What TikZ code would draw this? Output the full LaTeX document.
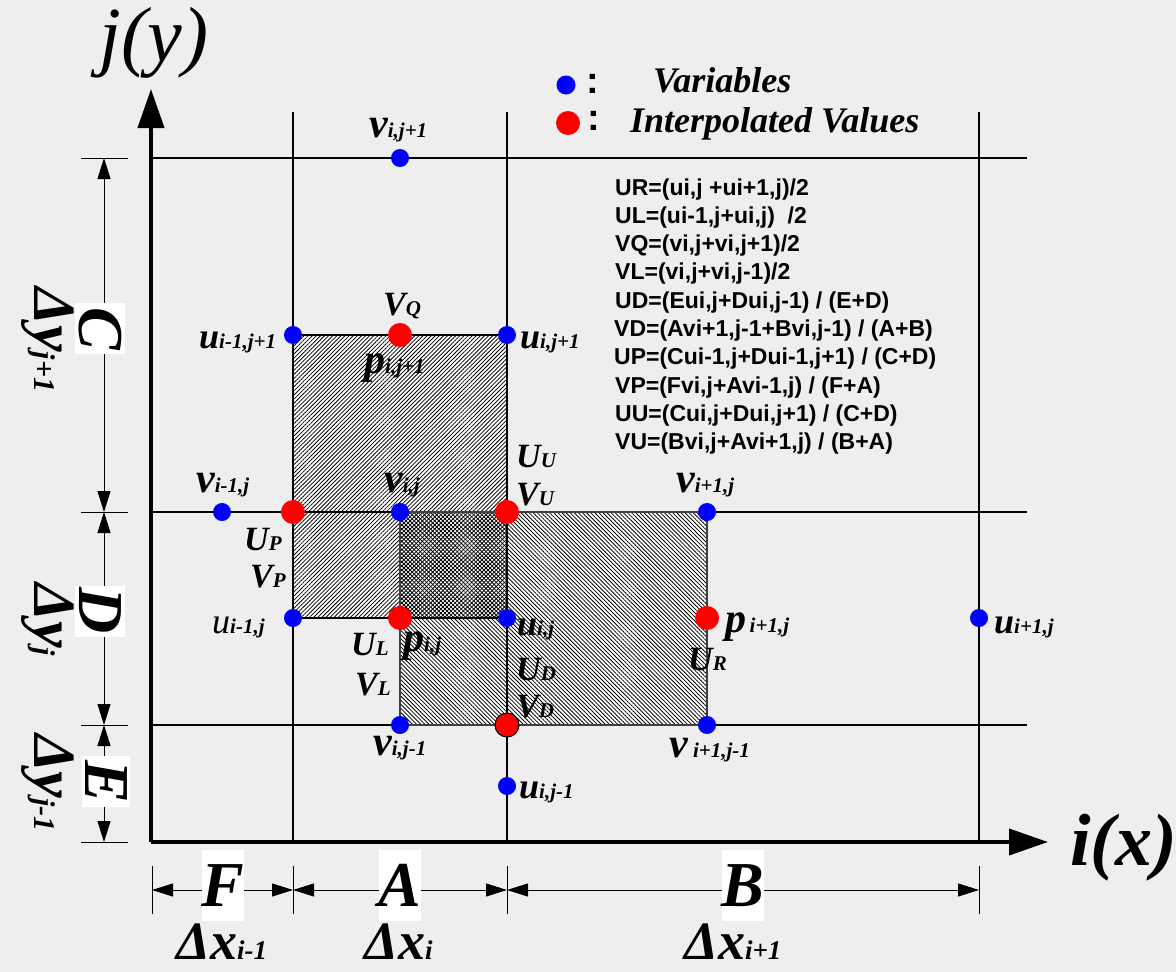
\documentclass[tikz,border=0pt]{standalone}
\usepackage{fontspec}
\setmainfont{Liberation Serif}
\newfontfamily\formfont{Liberation Sans}
\usepackage{tikz}
\usetikzlibrary{arrows.meta,patterns.meta}
\definecolor{gdBack}{HTML}{EEEEEE}
\definecolor{gdBlue}{HTML}{0000FF}
\definecolor{gdRed}{HTML}{FF0000}
\newcommand{\gridlab}[4][21]{{\fontsize{#2}{#2}\selectfont #3}{\fontsize{#1}{#1}\selectfont #4}}

\begin{document}
\begin{tikzpicture}[
    x=1pt,y=-1pt,
    var/.style={circle,fill=gdBlue,inner sep=0pt,minimum size=18pt},
    intp/.style={circle,fill=gdRed,inner sep=0pt,minimum size=24pt},
    lab/.style={inner sep=0pt,anchor=base west,font=\bfseries\itshape},
    form/.style={inner sep=0pt,anchor=base west,font=\formfont\bfseries\fontsize{23}{23}\selectfont},
    gridline/.style={line width=1.8pt},
    axis/.style={line width=4pt,-{Triangle[length=39pt,width=26pt]}},
    dimline/.style={line width=1pt,{Triangle[length=21pt,width=13pt]}-{Triangle[length=21pt,width=13pt]}},
    extline/.style={line width=1pt},
    letterbox/.style={fill=white,inner sep=0pt,font=\bfseries\itshape\fontsize{64}{64}\selectfont},
    hatchNE/.style={pattern={Lines[angle=45,distance=2.9pt,line width=0.8pt]}},
    hatchNW/.style={pattern={Lines[angle=-45,distance=2.9pt,line width=0.8pt]}}
  ]
    \fill[gdBack] (0,0) rectangle (1176,972);
    \useasboundingbox (0,0) rectangle (1176,972);

    % hatched cells
    \fill[white] (293,335) rectangle (507,618);
    \fill[white] (400,512) rectangle (707,725);
    \fill[hatchNE] (293,335) rectangle (507,618);
    \fill[hatchNW] (400,512) rectangle (707,725);

    % grid
    \draw[gridline] (151,158) -- (1027,158);
    \draw[gridline] (151,512) -- (1027,512);
    \draw[gridline] (151,725) -- (1027,725);
    \draw[gridline] (293,112) -- (293,842);
    \draw[gridline] (507,112) -- (507,842);
    \draw[gridline] (979,112) -- (979,842);
    \draw[line width=1.6pt] (293,335) rectangle (507,618);
    \draw[line width=1.6pt,draw=black!75] (400,512) rectangle (707,725);

    % axes
    \coordinate (O)    at (151,842);
    \coordinate (ytip) at (151,89);
    \coordinate (xtip) at (1048,842);
    \draw[axis] (O) -- (ytip);
    \draw[axis] (O) -- (xtip);
    \node[inner sep=0pt,anchor=base,font=\itshape\fontsize{78}{78}\selectfont] (ylab) at (154,61) {j(y)};
    \node[lab,font=\bfseries\itshape\fontsize{74}{74}\selectfont] (xlab) at (1070,865) {i(x)};

    % dimensions, left
    \coordinate (tyA) at (104,158);
    \coordinate (tyB) at (104,512);
    \coordinate (tyC) at (104,725);
    \coordinate (tyD) at (104,842);
    \draw[extline] (81,158) -- (128,158);
    \draw[extline] (81,512) -- (128,512);
    \draw[extline] (81,725) -- (128,725);
    \draw[extline] (81,842) -- (128,842);
    \draw[dimline] (tyA) -- (tyB);
    \draw[dimline] (tyB) -- (tyC);
    \draw[dimline] (tyC) -- (tyD);
    \node[letterbox,rotate=-90,minimum width=51pt,minimum height=50pt] (bC) at (100,328.5) {C};
    \node[letterbox,rotate=-90,minimum width=51pt,minimum height=50pt] (bD) at (100,611) {D};
    \node[letterbox,rotate=-90,minimum width=51pt,minimum height=48pt] (bE) at (106,781.5) {E};
    \node[inner sep=0pt,rotate=-90,font=\bfseries\itshape] (dyN) at (48,340) {\gridlab[30]{60}{Δy}{j+1}};
    \node[inner sep=0pt,rotate=-90,font=\bfseries\itshape] (dyC) at (48,620) {\gridlab[30]{60}{Δy}{j}};
    \node[inner sep=0pt,rotate=-90,font=\bfseries\itshape] (dyS) at (48,783) {\gridlab[30]{60}{Δy}{j-1}};

    % dimensions, bottom
    \coordinate (txA) at (152,890);
    \coordinate (txB) at (293,890);
    \coordinate (txC) at (507,890);
    \coordinate (txD) at (979,890);
    \draw[extline] (152,866) -- (152,914);
    \draw[extline] (293,866) -- (293,914);
    \draw[extline] (507,866) -- (507,914);
    \draw[extline] (979,866) -- (979,914);
    \draw[dimline] (txA) -- (txB);
    \draw[dimline] (txB) -- (txC);
    \draw[dimline] (txC) -- (txD);
    \node[letterbox,minimum width=42pt,minimum height=71pt] (bF) at (223,885.5) {F};
    \node[letterbox,minimum width=42pt,minimum height=71pt] (bA) at (400,885.5) {A};
    \node[letterbox,minimum width=42pt,minimum height=71pt] (bB) at (743,885.5) {B};
    \node[lab] (dxW) at (176,959) {\gridlab[27]{54}{Δx}{i-1}};
    \node[lab] (dxC) at (364,959) {\gridlab[27]{54}{Δx}{i}};
    \node[lab] (dxE) at (684,959) {\gridlab[27]{54}{Δx}{i+1}};

    % variables
    \node[var] (vN)  at (400,158) {};
    \node[var] (uNW) at (293,335) {};
    \node[var] (uNE) at (507,335) {};
    \node[var] (vW)  at (222,512) {};
    \node[var] (vC)  at (400,512) {};
    \node[var] (vE)  at (707,512) {};
    \node[var] (uW)  at (293,618) {};
    \node[var] (uC)  at (507,618) {};
    \node[var] (uE)  at (979,618) {};
    \node[var] (vS)  at (400,725) {};
    \node[var] (vSE) at (707,725) {};
    \node[var] (uS)  at (507,786) {};

    % interpolated values
    \node[intp] (pQ) at (400,335) {};
    \node[intp] (pP) at (293,512) {};
    \node[intp] (pU) at (507,512) {};
    \node[intp] (pC) at (400,618) {};
    \node[intp] (pE) at (707,618) {};
    \node[intp,draw=black,line width=1pt] (pD) at (507,725) {};

    % point labels
    \node[lab] (lvN)  at (369,137) {\gridlab{42}{v}{i,j+1}};
    \node[lab] (lVQ)  at (383,315) {\gridlab{34}{V}{Q}};
    \node[lab] (luNW) at (199,348) {\gridlab{36}{u}{i-1,j+1}};
    \node[lab] (luNE) at (520,348) {\gridlab{36}{u}{i,j+1}};
    \node[lab] (lpN)  at (364,373) {\gridlab{42}{p}{i,j+1}};
    \node[lab] (lUU)  at (516,467) {\gridlab{34}{U}{U}};
    \node[lab] (lVU)  at (516,505) {\gridlab{34}{V}{U}};
    \node[lab] (lvW)  at (196,492) {\gridlab{42}{v}{i-1,j}};
    \node[lab] (lvC)  at (384,492) {\gridlab{42}{v}{i,j}};
    \node[lab] (lvE)  at (676,492) {\gridlab{42}{v}{i+1,j}};
    \node[lab] (lUP)  at (244,550) {\gridlab{34}{U}{P}};
    \node[lab] (lVP)  at (250,587) {\gridlab{34}{V}{P}};
    \node[lab] (luW)  at (212,633) {\gridlab{36}{\mdseries u}{i-1,j}};
    \node[lab] (lUL)  at (351,655) {\gridlab{34}{U}{L}};
    \node[lab] (lVL)  at (355,695) {\gridlab{34}{V}{L}};
    \node[lab] (lpC)  at (403,651) {\gridlab{42}{p}{i,j}};
    \node[lab] (luC)  at (517,635) {\gridlab{36}{u}{i,j}};
    \node[lab] (lUD)  at (516,680) {\gridlab{34}{U}{D}};
    \node[lab] (lVD)  at (516,717) {\gridlab{34}{V}{D}};
    \node[lab] (lUR)  at (688,670) {\gridlab{34}{U}{R}};
    \node[lab] (lpE)  at (725,632) {\gridlab{42}{p}{\,i+1,j}};
    \node[lab] (luE)  at (994,633) {\gridlab{36}{u}{i+1,j}};
    \node[lab] (lvS)  at (373,755) {\gridlab{42}{v}{i,j-1}};
    \node[lab] (lvSE) at (669,757) {\gridlab{42}{v}{\ i+1,j-1}};
    \node[lab] (luS)  at (519,798) {\gridlab{36}{u}{i,j-1}};

    % legend
    \node[var,minimum size=19pt] (legV) at (566,85) {};
    \node[intp] (legI) at (568,123) {};
    \node[inner sep=0pt,font=\formfont\bfseries\fontsize{38}{38}\selectfont] (colV) at (593,84) {:};
    \node[inner sep=0pt,font=\formfont\bfseries\fontsize{38}{38}\selectfont] (colI) at (594,121) {:};
    \node[lab,font=\bfseries\itshape\fontsize{36}{36}\selectfont] (txtV) at (653,92) {Variables};
    \node[lab,font=\bfseries\itshape\fontsize{36}{36}\selectfont] (txtI) at (630,132) {Interpolated Values};

    % formulas
    \node[form] (fUR) at (615,195)   {UR=(ui,j +ui+1,j)/2};
    \node[form] (fUL) at (615,223.3) {UL=(ui-1,j+ui,j)\ \ /2};
    \node[form] (fVQ) at (615,251.6) {VQ=(vi,j+vi,j+1)/2};
    \node[form] (fVL) at (615,279.9) {VL=(vi,j+vi,j-1)/2};
    \node[form] (fUD) at (615,308.2) {UD=(Eui,j+Dui,j-1) / (E+D)};
    \node[form] (fVD) at (614,336.5) {VD=(Avi+1,j-1+Bvi,j-1) / (A+B)};
    \node[form] (fUP) at (614,364.8) {UP=(Cui-1,j+Dui-1,j+1) / (C+D)};
    \node[form] (fVP) at (615,393.1) {VP=(Fvi,j+Avi-1,j) / (F+A)};
    \node[form] (fUU) at (615,421.4) {UU=(Cui,j+Dui,j+1) / (C+D)};
    \node[form] (fVU) at (615,449.7) {VU=(Bvi,j+Avi+1,j) / (B+A)};
  \end{tikzpicture}
\end{document}
